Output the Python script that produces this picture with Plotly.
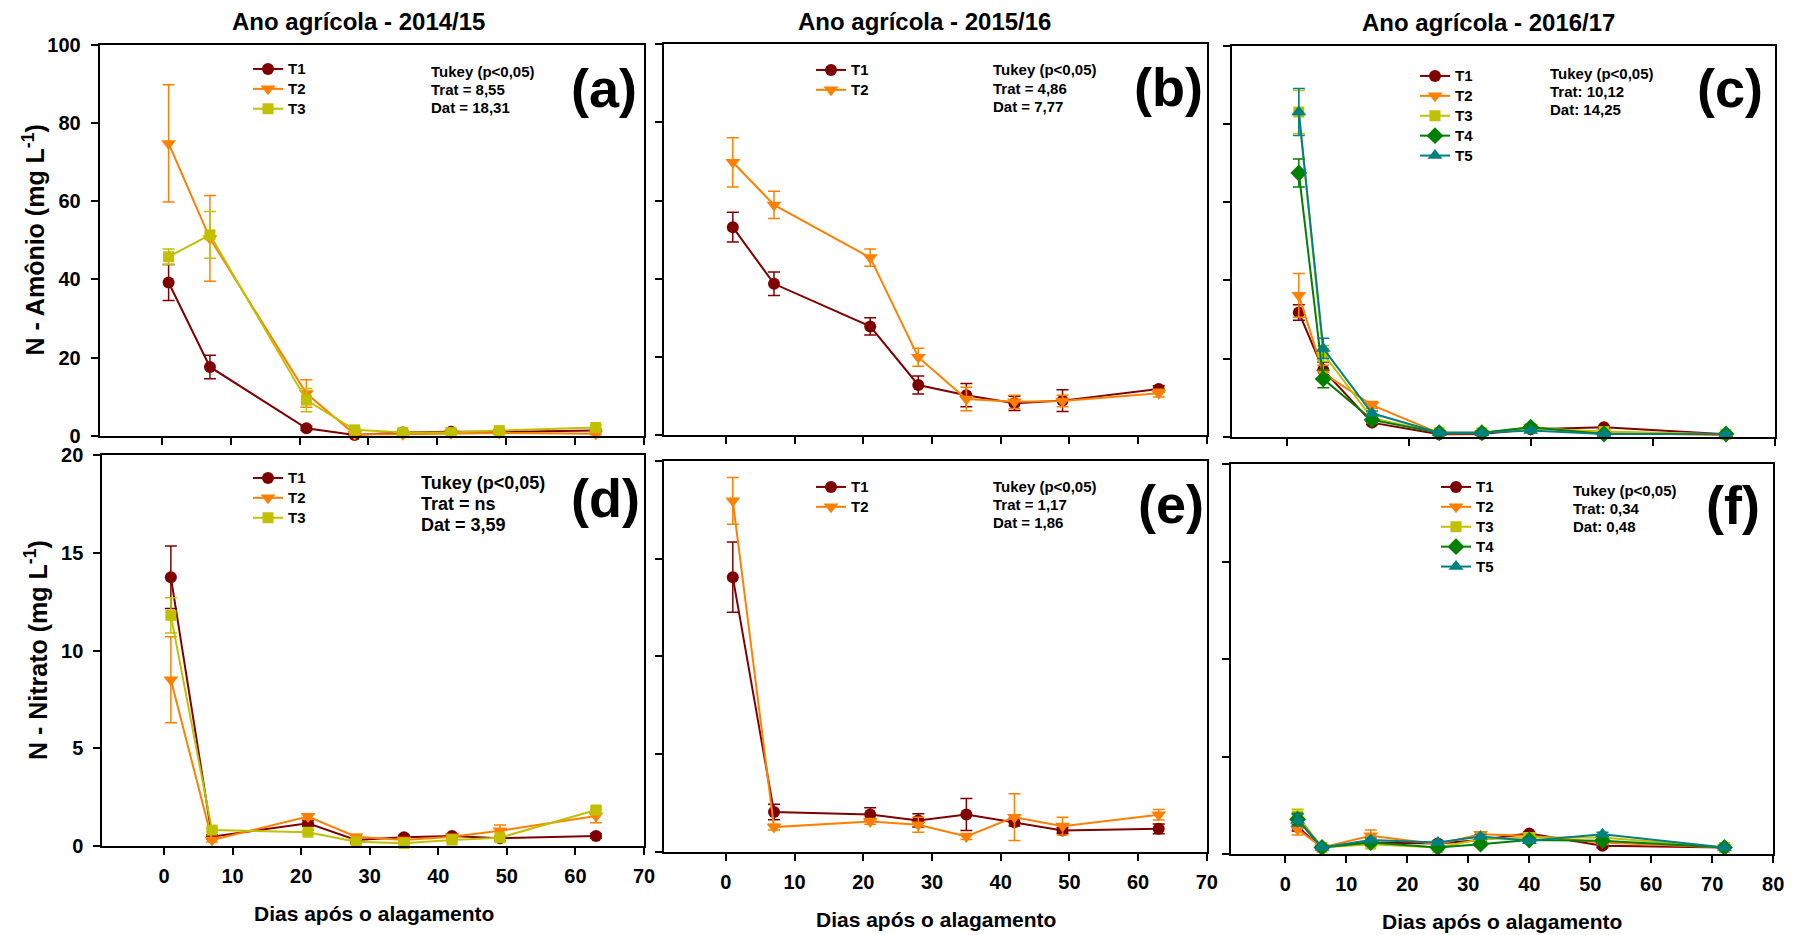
import plotly.graph_objects as go

W, H = 1798, 935

# ---------------- data ----------------
DAYS_1415 = [1, 7, 21, 28, 35, 42, 49, 63]
DAYS_1516 = [1, 7, 21, 28, 35, 42, 49, 63]
DAYS_1617 = [2, 6, 14, 25, 32, 40, 52, 72]

TREATMENTS = ["T1", "T2", "T3", "T4", "T5"]

# N - Amonio (mg L-1)
AMO_1415 = {
    "T1": [39.2, 17.6, 1.9, 0.2, 0.8, 1.0, 1.0, 1.3],
    "T2": [74.8, 50.5, 10.8, 0.4, 0.4, 0.6, 0.7, 0.5],
    "T3": [45.8, 51.4, 9.1, 1.5, 0.8, 0.8, 1.3, 2.1],
}
AMO_1415_ERR = {
    "T1": [4.6, 3.0, 0.5, 0.2, 0.3, 0.3, 0.3, 0.3],
    "T2": [15.0, 11.0, 3.5, 0.4, 0.3, 0.3, 0.3, 0.3],
    "T3": [2.0, 6.0, 3.0, 0.5, 0.3, 0.3, 0.4, 0.5],
}
AMO_1516 = {
    "T1": [53.2, 38.7, 27.8, 12.8, 10.2, 8.1, 8.8, 11.8],
    "T2": [69.8, 58.9, 45.4, 19.9, 9.2, 8.5, 8.7, 10.7],
}
AMO_1516_ERR = {
    "T1": [3.8, 3.0, 2.2, 2.3, 3.0, 1.8, 2.8, 0.8],
    "T2": [6.3, 3.5, 2.2, 2.3, 3.0, 1.7, 1.5, 1.0],
}
AMO_1617 = {
    "T1": [31.8, 17.1, 3.6, 0.6, 0.7, 1.9, 2.4, 0.6],
    "T2": [36.2, 16.3, 8.1, 0.9, 0.9, 2.4, 1.0, 0.4],
    "T3": [83.1, 21.3, 4.7, 1.0, 1.0, 2.1, 1.3, 0.6],
    "T4": [67.5, 14.8, 4.3, 1.0, 1.0, 2.4, 0.7, 0.7],
    "T5": [83.1, 22.6, 6.0, 1.0, 1.0, 1.6, 0.7, 0.7],
}
AMO_1617_ERR = {
    "T1": [2.0, 2.0, 0.5, 0.2, 0.2, 0.3, 0.3, 0.2],
    "T2": [5.6, 2.0, 0.9, 0.2, 0.2, 0.3, 0.3, 0.2],
    "T3": [5.5, 2.0, 0.6, 0.2, 0.2, 0.3, 0.3, 0.2],
    "T4": [3.6, 2.3, 0.5, 0.2, 0.2, 0.3, 0.3, 0.2],
    "T5": [6.0, 2.6, 0.6, 0.2, 0.2, 0.3, 0.3, 0.2],
}

# N - Nitrato (mg L-1)
NIT_1415 = {
    "T1": [13.75, 0.46, 1.15, 0.29, 0.43, 0.50, 0.38, 0.50],
    "T2": [8.5, 0.29, 1.49, 0.46, 0.29, 0.46, 0.77, 1.52],
    "T3": [11.8, 0.80, 0.69, 0.20, 0.12, 0.29, 0.41, 1.83],
}
NIT_1415_ERR = {
    "T1": [1.6, 0.1, 0.15, 0.1, 0.1, 0.1, 0.1, 0.12],
    "T2": [2.2, 0.1, 0.15, 0.12, 0.1, 0.1, 0.29, 0.34],
    "T3": [0.9, 0.1, 0.1, 0.1, 0.1, 0.1, 0.1, 0.15],
}
NIT_1516 = {
    "T1": [14.05, 2.02, 1.90, 1.59, 1.90, 1.50, 1.08, 1.16],
    "T2": [17.96, 1.25, 1.54, 1.37, 0.77, 1.76, 1.30, 1.88],
}
NIT_1516_ERR = {
    "T1": [1.8, 0.4, 0.34, 0.34, 0.82, 0.2, 0.15, 0.25],
    "T2": [1.2, 0.15, 0.15, 0.38, 0.15, 1.2, 0.46, 0.27],
}
NIT_1617 = {
    "T1": [1.40, 0.35, 0.60, 0.55, 0.73, 1.07, 0.44, 0.35],
    "T2": [1.29, 0.35, 0.95, 0.52, 1.03, 0.95, 0.60, 0.35],
    "T3": [1.97, 0.35, 0.52, 0.35, 0.77, 0.86, 0.86, 0.35],
    "T4": [1.80, 0.35, 0.60, 0.35, 0.52, 0.73, 0.69, 0.35],
    "T5": [1.75, 0.35, 0.73, 0.60, 0.91, 0.69, 1.03, 0.35],
}
NIT_1617_ERR = {
    "T1": [0.2, 0.05, 0.1, 0.1, 0.1, 0.1, 0.1, 0.05],
    "T2": [0.3, 0.05, 0.29, 0.1, 0.1, 0.1, 0.1, 0.05],
    "T3": [0.34, 0.05, 0.1, 0.1, 0.1, 0.1, 0.1, 0.05],
    "T4": [0.3, 0.05, 0.1, 0.1, 0.1, 0.1, 0.1, 0.05],
    "T5": [0.3, 0.05, 0.1, 0.1, 0.1, 0.1, 0.1, 0.05],
}

YEAR_TITLES = ["Ano agrícola - 2014/15", "Ano agrícola - 2015/16", "Ano agrícola - 2016/17"]
PANEL_LABELS = ["(a)", "(b)", "(c)", "(d)", "(e)", "(f)"]
TUKEY = [
    ["Tukey (p&lt;0,05)", "Trat = 8,55", "Dat = 18,31"],
    ["Tukey (p&lt;0,05)", "Trat = 4,86", "Dat = 7,77"],
    ["Tukey (p&lt;0,05)", "Trat: 10,12", "Dat: 14,25"],
    ["Tukey (p&lt;0,05)", "Trat = ns", "Dat = 3,59"],
    ["Tukey (p&lt;0,05)", "Trat = 1,17", "Dat = 1,86"],
    ["Tukey (p&lt;0,05)", "Trat: 0,34", "Dat: 0,48"],
]
Y_TITLE_TOP = "N - Amônio (mg L<sup>-1</sup>)"
Y_TITLE_BOT = "N - Nitrato (mg L<sup>-1</sup>)"
X_TITLE = "Dias após o alagamento"

# ---------------- styles ----------------
FONT = "Liberation Sans, Arial, Helvetica, sans-serif"
COLORS = {"T1": "#800000", "T2": "#FF8000", "T3": "#C0C000", "T4": "#008000", "T5": "#008080"}
SYMBOLS = {"T1": "circle", "T2": "triangle-down", "T3": "square", "T4": "diamond", "T5": "triangle-up"}
MSIZE = {"T1": 12, "T2": 13, "T3": 11, "T4": 13, "T5": 13}


def fx(px):
    return px / W


def fy(py):
    return 1 - py / H


# panel boxes in pixels: left, right, top, bottom
BOXES = [
    (99.7, 644.0, 45.0, 435.7),
    (664.1, 1206.8, 44.3, 435.0),
    (1231.7, 1774.8, 46.0, 436.7),
    (102.3, 644.0, 455.3, 845.7),
    (664.1, 1206.8, 461.0, 851.5),
    (1230.5, 1773.2, 464.0, 854.3),
]
XRANGES = [[-9, 70], [-9, 70], [-9, 80], [-9, 70], [-9, 70], [-9, 80]]
XDTICK = [10, 10, 20, 10, 10, 10]
YRANGES = [[0, 100], [0, 100], [0, 100], [0, 20], [0, 20], [0, 20]]
YDTICK = [20, 20, 20, 5, 5, 5]
SHOW_X_LABELS = [False, False, False, True, True, True]
SHOW_Y_LABELS = [True, False, False, True, False, False]

PANEL_DATA = [
    (DAYS_1415, AMO_1415, AMO_1415_ERR),
    (DAYS_1516, AMO_1516, AMO_1516_ERR),
    (DAYS_1617, AMO_1617, AMO_1617_ERR),
    (DAYS_1415, NIT_1415, NIT_1415_ERR),
    (DAYS_1516, NIT_1516, NIT_1516_ERR),
    (DAYS_1617, NIT_1617, NIT_1617_ERR),
]

# legend text start (px) and first-row center (px)
LEGEND_POS = [(290, 70), (853, 71), (1457, 77), (290, 479), (853, 488), (1478, 488)]
TUKEY_POS = [(428.5, 71, 18), (991.3, 70, 18), (1547.8, 73.3, 18),
             (418.8, 483.3, 21), (991.3, 486, 18), (1570.7, 490, 18)]
TUKEY_SIZE = [15, 15, 15, 18, 15, 15]
LABEL_POS = [(604, 88), (1168, 86.5), (1730, 88), (605, 498), (1171, 504), (1733, 505)]

fig = go.Figure()
layout = {}
annotations = []

for i, (days, series, errs) in enumerate(PANEL_DATA):
    n = i + 1
    xa = "x" if n == 1 else f"x{n}"
    ya = "y" if n == 1 else f"y{n}"
    leg = "legend" if n == 1 else f"legend{n}"
    for t in TREATMENTS:
        if t not in series:
            continue
        fig.add_trace(go.Scatter(
            x=days, y=series[t], name=f"<span style='font-size:15px'>{t}</span>",
            mode="lines+markers",
            xaxis=xa, yaxis=ya, legend=leg,
            line=dict(color=COLORS[t], width=2),
            marker=dict(symbol=SYMBOLS[t], size=MSIZE[t], color=COLORS[t],
                        line=dict(width=0)),
            error_y=dict(type="data", array=errs[t], visible=True,
                         color=COLORS[t], thickness=1.5, width=6),
            cliponaxis=False,
        ))
    l, r, t_, b = BOXES[i]
    axis_common = dict(showline=True, linecolor="black", linewidth=2, mirror=True,
                       ticks="outside", ticklen=7, tickwidth=1.5, tickcolor="black",
                       showgrid=False, zeroline=False, automargin=False,
                       tickfont=dict(family=FONT, size=20, color="black", weight="bold"))
    layout[f"xaxis{'' if n == 1 else n}"] = dict(
        axis_common, domain=[fx(l), fx(r)], range=XRANGES[i], tick0=0, dtick=XDTICK[i],
        anchor=ya, showticklabels=SHOW_X_LABELS[i], ticklabelstandoff=4)
    layout[f"yaxis{'' if n == 1 else n}"] = dict(
        axis_common, domain=[fy(b), fy(t_)], range=YRANGES[i], tick0=0, dtick=YDTICK[i],
        anchor=xa, showticklabels=SHOW_Y_LABELS[i], ticklabelstandoff=6)
    lx, ly = LEGEND_POS[i]
    layout[leg] = dict(x=fx(lx - 42), y=fy(ly - 16), xanchor="left", yanchor="top",
                       bgcolor="rgba(0,0,0,0)", borderwidth=0,
                       font=dict(family=FONT, size=13, color="black", weight="bold"),
                       itemclick=False)
    tx, ty, dy = TUKEY_POS[i]
    for k, line in enumerate(TUKEY[i]):
        annotations.append(dict(x=fx(tx), y=fy(ty + k * dy), xref="paper", yref="paper",
                                xanchor="left", yanchor="middle", showarrow=False,
                                text=f"<b>{line}</b>",
                                font=dict(family=FONT, size=TUKEY_SIZE[i], color="black")))
    px_, py_ = LABEL_POS[i]
    annotations.append(dict(x=fx(px_), y=fy(py_), xref="paper", yref="paper",
                            xanchor="center", yanchor="middle", showarrow=False,
                            text=f"<b>{PANEL_LABELS[i]}</b>",
                            font=dict(family=FONT, size=54, color="black")))

# column titles
for (cx, cy), txt in zip([(358, 21), (924, 21), (1488, 22)], YEAR_TITLES):
    annotations.append(dict(x=fx(cx), y=fy(cy), xref="paper", yref="paper",
                            xanchor="center", yanchor="middle", showarrow=False,
                            text=f"<b>{txt}</b>",
                            font=dict(family=FONT, size=24, color="black")))
# y titles
annotations.append(dict(x=fx(34), y=fy(240.5), xref="paper", yref="paper", textangle=-90,
                        xanchor="center", yanchor="middle", showarrow=False,
                        text=f"<b>{Y_TITLE_TOP}</b>", font=dict(family=FONT, size=25, color="black")))
annotations.append(dict(x=fx(36), y=fy(650), xref="paper", yref="paper", textangle=-90,
                        xanchor="center", yanchor="middle", showarrow=False,
                        text=f"<b>{Y_TITLE_BOT}</b>", font=dict(family=FONT, size=25, color="black")))
# x titles
for cx, cy in [(373.5, 913), (935.6, 919), (1502, 921.7)]:
    annotations.append(dict(x=fx(cx), y=fy(cy), xref="paper", yref="paper",
                            xanchor="center", yanchor="middle", showarrow=False,
                            text=f"<b>{X_TITLE}</b>", font=dict(family=FONT, size=21, color="black")))

fig.update_layout(
    width=W, height=H, margin=dict(l=0, r=0, t=0, b=0, pad=0, autoexpand=False),
    paper_bgcolor="white", plot_bgcolor="white",
    font=dict(family=FONT, color="black"),
    annotations=annotations, showlegend=True,
    **layout,
)

fig.write_html("out.html")
